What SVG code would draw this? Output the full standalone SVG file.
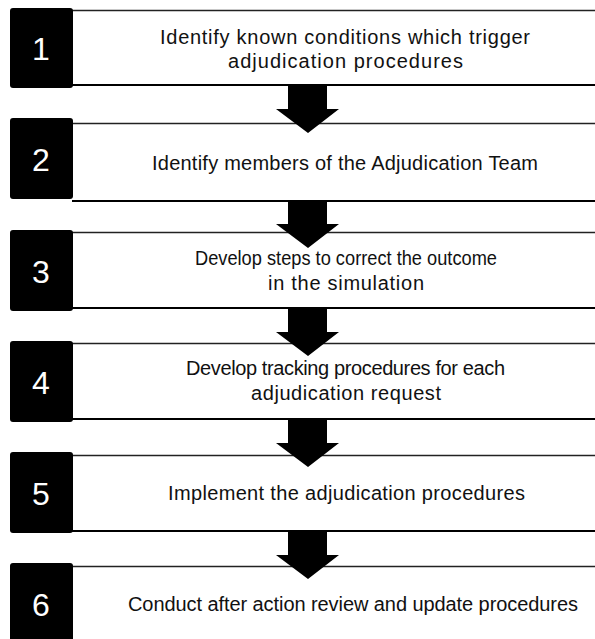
<svg xmlns="http://www.w3.org/2000/svg" width="595" height="639" viewBox="0 0 595 639">
<style>
.num{fill:#000}
.numt{fill:#fff;font-family:"Liberation Sans",Arial,sans-serif;font-size:32px;text-anchor:middle}
.lt{stroke:#222;stroke-width:1.6;fill:none}
.lb{stroke:#000;stroke-width:2;fill:none}
.txt{fill:#111;font-family:"Liberation Sans",Arial,sans-serif;font-size:20px}
.arr{fill:#000}
</style>
<rect width="595" height="639" fill="#fff"/>
<g id="step1">
<line class="lt" x1="72" y1="10.5" x2="595" y2="10.5"/>
<line class="lb" x1="72" y1="85" x2="595" y2="85"/>
<rect class="num" x="10" y="8" width="63" height="80" rx="3"/>
<text class="numt" x="41" y="60">1</text>
<text class="txt" x="160" y="44" textLength="370" lengthAdjust="spacing">Identify known conditions which trigger</text>
<text class="txt" x="228" y="68" textLength="235" lengthAdjust="spacing">adjudication procedures</text>
</g>
<g id="step2">
<line class="lt" x1="72" y1="123.5" x2="595" y2="123.5"/>
<line class="lb" x1="72" y1="201" x2="595" y2="201"/>
<rect class="num" x="10" y="118" width="63" height="81" rx="3"/>
<text class="numt" x="41" y="171">2</text>
<text class="txt" x="152" y="170" textLength="386" lengthAdjust="spacing">Identify members of the Adjudication Team</text>
</g>
<g id="step3">
<line class="lt" x1="72" y1="232.5" x2="595" y2="232.5"/>
<line class="lb" x1="72" y1="308" x2="595" y2="308"/>
<rect class="num" x="10" y="230" width="63" height="81" rx="3"/>
<text class="numt" x="41" y="283">3</text>
<text class="txt" x="195" y="265" textLength="302" lengthAdjust="spacingAndGlyphs">Develop steps to correct the outcome</text>
<text class="txt" x="268" y="290" textLength="156" lengthAdjust="spacing">in the simulation</text>
</g>
<g id="step4">
<line class="lt" x1="72" y1="343.5" x2="595" y2="343.5"/>
<line class="lb" x1="72" y1="419" x2="595" y2="419"/>
<rect class="num" x="10" y="341" width="63" height="81" rx="3"/>
<text class="numt" x="41" y="394">4</text>
<text class="txt" x="186" y="375" textLength="319" lengthAdjust="spacing">Develop tracking procedures for each</text>
<text class="txt" x="251" y="400" textLength="190" lengthAdjust="spacing">adjudication request</text>
</g>
<g id="step5">
<line class="lt" x1="72" y1="455.5" x2="595" y2="455.5"/>
<line class="lb" x1="72" y1="531" x2="595" y2="531"/>
<rect class="num" x="10" y="452" width="63" height="81" rx="3"/>
<text class="numt" x="41" y="505">5</text>
<text class="txt" x="168" y="500" textLength="357" lengthAdjust="spacing">Implement the adjudication procedures</text>
</g>
<g id="step6">
<line class="lt" x1="72" y1="566.5" x2="595" y2="566.5"/>
<rect class="num" x="10" y="563" width="63" height="90" rx="3"/>
<text class="numt" x="41" y="616">6</text>
<text class="txt" x="128" y="611" textLength="450" lengthAdjust="spacing">Conduct after action review and update procedures</text>
</g>
<g id="connectors">
<path class="arr" d="M288,85 H327 V109 H339 L308,133 L276,109 H288 Z"/>
<path class="arr" d="M288,201 H327 V224 H339 L308,248 L276,224 H288 Z"/>
<path class="arr" d="M288,308 H327 V332 H339 L308,356 L276,332 H288 Z"/>
<path class="arr" d="M288,419 H327 V443 H339 L308,467 L276,443 H288 Z"/>
<path class="arr" d="M288,531 H327 V555 H339 L308,579 L276,555 H288 Z"/>
</g>
</svg>
